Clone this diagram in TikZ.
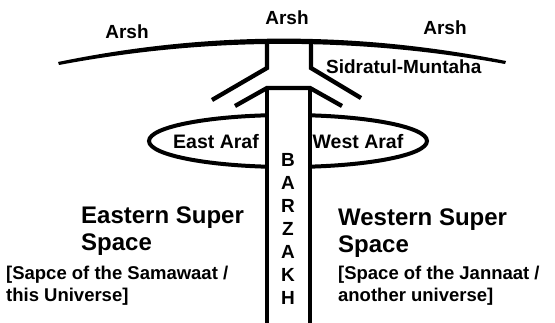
\documentclass[tikz,border=0pt]{standalone}
\usepackage{fontspec}
\setmainfont{Liberation Sans}
\usetikzlibrary{positioning}

\begin{document}
\begin{tikzpicture}[x=1pt, y=-1pt, line width=4.3pt,
    every node/.style={inner sep=0pt},
    lbl/.style={font=\fontsize{19}{22}\selectfont\bfseries},
    big/.style={font=\fontsize{24}{27}\selectfont\bfseries, align=left, anchor=north west},
    note/.style={font=\fontsize{18.5}{22}\selectfont\bfseries, align=left, anchor=north west}]
    \useasboundingbox (0,0) rectangle (555,323);

    % Arsh (throne) arc, thinner at the ends
    \fill (58,62) .. controls (208,31) and (356,31) .. (506,61)
        -- (505,64) .. controls (356,37) and (208,37) .. (59,65) -- cycle;

    % Araf ring
    \draw[line width=4pt] (288,141) ellipse [x radius=139pt, y radius=26pt];
    \fill[white] (269,100) rectangle (308,185);

    % Pillar - upper branch
    \draw (267,40) -- (267,68) -- (212,100);
    \draw (311,40) -- (311,68) -- (361,98);
    % Pillar - inner branch and Barzakh walls
    \draw (235,106) -- (267,88) -- (310,88) -- (342,106);
    \draw (267,88) -- (267,323);
    \draw (310,88) -- (310,323);

    % Labels
    \node[lbl] (T_ArshL) at (127,32) {Arsh};
    \node[lbl] (T_ArshM) at (287,18) {Arsh};
    \node[lbl] (T_ArshR) at (445,28) {Arsh};
    \node[lbl, anchor=west] (T_Sidra) at (324,67) {Sidratul-Muntaha};
    \node[lbl, font=\fontsize{19.5}{22}\selectfont\bfseries] (T_EAraf) at (216,142) {East Araf};
    \node[lbl, font=\fontsize{19.5}{22}\selectfont\bfseries] (T_WAraf) at (358,142) {West Araf};
    \node[font=\fontsize{19}{23}\selectfont\bfseries, align=center] (T_Barz) at (288,229) {B\\A\\R\\Z\\A\\K\\H};

    \node[big] (T_East) at (79,205) {Eastern Super\\Space};
    \node[note] (T_ENote) at (4,264) {[Sapce of the Samawaat /\\this Universe]};
    \node[big] (T_West) at (336,207) {Western Super\\Space};
    \node[note] (T_WNote) at (336,264) {[Space of the Jannaat /\\another universe]};
\end{tikzpicture}
\end{document}
